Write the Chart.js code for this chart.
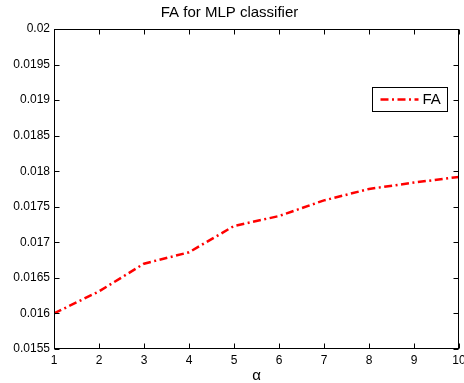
<!DOCTYPE html>
<html>
<head>
<meta charset="utf-8">
<script src="https://cdn.jsdelivr.net/npm/chart.js@4"></script>
<style>
html,body{margin:0;padding:0;background:#fff;}
#wrap{width:464px;height:383px;}
</style>
</head>
<body>
<div id="wrap"><canvas id="c" width="464" height="383"></canvas></div>
<script>
const alphaValues = [1, 2, 3, 4, 5, 6, 7, 8, 9, 10];
const faValues = [0.01600, 0.01631, 0.01670, 0.01686, 0.01723, 0.01737, 0.01759, 0.01775, 0.01784, 0.01792];
const seriesLabel = 'FA';
const chartTitle = 'FA for MLP classifier';
const xAxisTitle = 'α';
const yMin = 0.0155, yMax = 0.02, yStep = 0.0005;
const xMin = 1, xMax = 10, xStep = 1;

const FONT = '"Liberation Sans", Arial, Helvetica, sans-serif';

const boxTicks = {
  id: 'boxTicks',
  afterDatasetsDraw(chart) {
    const {ctx, chartArea: a, scales: {x, y}} = chart;
    ctx.save();
    ctx.strokeStyle = '#000';
    ctx.lineWidth = 1;
    const L = Math.round(a.left) + 0.5, R = Math.round(a.right) - 0.5;
    const T = Math.round(a.top) + 0.5, B = Math.round(a.bottom) - 0.5;
    ctx.strokeRect(L, T, R - L, B - T);
    const tl = 5;
    ctx.beginPath();
    x.ticks.forEach(t => {
      const px = Math.round(x.getPixelForValue(t.value)) + 0.5;
      ctx.moveTo(px, B); ctx.lineTo(px, B - tl);
      ctx.moveTo(px, T); ctx.lineTo(px, T + tl);
    });
    y.ticks.forEach(t => {
      const py = Math.round(y.getPixelForValue(t.value)) + 0.5;
      ctx.moveTo(L, py); ctx.lineTo(L + tl, py);
      ctx.moveTo(R, py); ctx.lineTo(R - tl, py);
    });
    ctx.stroke();

    // legend box
    const ds = chart.data.datasets[0];
    const bw = 75, bh = 24;
    const bx = Math.round(a.right) - 12 - bw + 0.5;
    const by = Math.round(a.top) + 58 + 0.5;
    ctx.fillStyle = '#fff';
    ctx.fillRect(bx, by, bw, bh);
    ctx.strokeStyle = '#000';
    ctx.lineWidth = 1;
    ctx.strokeRect(bx, by, bw, bh);
    const my = by + bh / 2;
    ctx.beginPath();
    ctx.strokeStyle = ds.borderColor;
    ctx.lineWidth = ds.borderWidth;
    ctx.setLineDash(ds.borderDash);
    ctx.moveTo(bx + 8, my);
    ctx.lineTo(bx + 46, my);
    ctx.stroke();
    ctx.setLineDash([]);
    ctx.fillStyle = '#000';
    ctx.font = '15px ' + FONT;
    ctx.textBaseline = 'middle';
    ctx.textAlign = 'left';
    ctx.fillText(ds.label, bx + 50, my + 0.5);
    ctx.restore();
  }
};

new Chart(document.getElementById('c'), {
  type: 'line',
  data: {
    datasets: [{
      label: seriesLabel,
      data: alphaValues.map((a, i) => ({x: a, y: faValues[i]})),
      borderColor: '#ff0000',
      backgroundColor: '#ff0000',
      borderWidth: 2.5,
      borderDash: [8, 3.5, 2, 3.5],
      pointRadius: 0,
      tension: 0,
      fill: false
    }]
  },
  options: {
    responsive: false,
    animation: false,
    devicePixelRatio: 1,
    layout: {padding: {left: 0, right: 5, top: 0, bottom: 0}},
    plugins: {
      legend: {display: false},
      tooltip: {enabled: false},
      title: {
        display: true,
        text: chartTitle,
        color: '#000',
        font: {family: FONT, size: 15, weight: 'normal', lineHeight: 1.2},
        padding: {top: 3.8, bottom: 7.2}
      }
    },
    scales: {
      x: {
        type: 'linear',
        min: xMin, max: xMax,
        grid: {display: false, drawTicks: false},
        border: {display: false},
        ticks: {
          stepSize: xStep,
          color: '#000',
          font: {family: FONT, size: 12},
          padding: 4,
          maxRotation: 0,
          autoSkip: false,
          callback: v => String(v)
        },
        title: {
          display: true,
          text: xAxisTitle,
          color: '#000',
          font: {family: FONT, size: 15, lineHeight: 1},
          padding: {top: 0, bottom: 0}
        },
        afterFit(s) { s.height = 34; s.paddingLeft = 0; s.paddingRight = 0; }
      },
      y: {
        min: yMin, max: yMax,
        grid: {display: false, drawTicks: false},
        border: {display: false},
        ticks: {
          stepSize: yStep,
          color: '#000',
          font: {family: FONT, size: 12},
          padding: 4,
          autoSkip: false,
          callback: v => String(+v.toFixed(6))
        },
        afterFit(s) { s.width = 54; s.paddingTop = 0; s.paddingBottom = 0; }
      }
    }
  },
  plugins: [boxTicks]
});
</script>
</body>
</html>
